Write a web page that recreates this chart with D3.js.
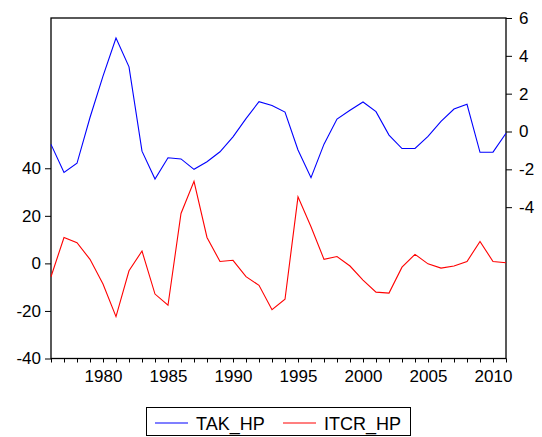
<!DOCTYPE html>
<html>
<head>
<meta charset="utf-8">
<script src="https://cdn.jsdelivr.net/npm/d3@7"></script>
<style>
  html, body { margin: 0; padding: 0; background: #fff; }
  svg { display: block; }
  text { font-family: "Liberation Sans", Arial, sans-serif; fill: #000; }
</style>
</head>
<body>
<svg id="chart" width="542" height="437"></svg>
<script>
// Years covered by both filtered series
const years = d3.range(1976, 2012);

// TAK_HP (right axis)
const takHP = [
  -0.68, -2.16, -1.68, 0.74, 2.93, 4.94, 3.42, -1.04, -2.51, -1.39,
  -1.45, -2.00, -1.60, -1.07, -0.28, 0.68, 1.58, 1.38, 1.03, -0.98,
  -2.44, -0.67, 0.66, 1.12, 1.56, 1.05, -0.19, -0.90, -0.90, -0.26,
  0.53, 1.19, 1.44, -1.10, -1.09, -0.09
];

// ITCR_HP (left axis)
const itcrHP = [
  -5.6, 10.9, 8.7, 1.7, -8.7, -22.4, -3.1, 5.2, -12.9, -17.6,
  21.0, 34.5, 10.9, 0.8, 1.3, -5.6, -9.2, -19.5, -15.1, 28.0,
  15.4, 1.7, 2.9, -1.1, -7.0, -12.1, -12.5, -1.6, 3.8, -0.2,
  -2.0, -1.1, 0.8, 9.2, 0.8, 0.3
];

const leftTicks = [-40, -20, 0, 20, 40];
const rightTicks = [-4, -2, 0, 2, 4, 6];
const yearLabels = [1980, 1985, 1990, 1995, 2000, 2005, 2010];

const seriesNames = ["TAK_HP", "ITCR_HP"];
const seriesColors = ["#0000ff", "#ff0000"];

const plot = { left: 51, right: 506, top: 18, bottom: 358.5 };

const svg = d3.select("#chart");

const x = d3.scaleLinear().domain([1976, 2011]).range([plot.left, plot.right]);
const yLeft = d3.scaleLinear().domain([-40, 103.2]).range([plot.bottom, plot.top]);
const yRight = d3.scaleLinear().domain([-12, 6]).range([plot.bottom, plot.top]);

// Axes (plain hyphen for negative numbers)
const fontSize = "17px";
const plain = d => String(d);

const xAxis = d3.axisBottom(x)
  .tickValues(years)
  .tickSize(4)
  .tickSizeOuter(0)
  .tickFormat(d => yearLabels.includes(d) ? d : "");
const gx = svg.append("g")
  .attr("transform", `translate(0,${plot.bottom})`)
  .call(xAxis);
gx.selectAll("text").style("font-size", fontSize).attr("dy", "0.95em").attr("y", 7.5);

const gl = svg.append("g")
  .attr("transform", `translate(${plot.left},0)`)
  .call(d3.axisLeft(yLeft).tickValues(leftTicks).tickFormat(plain).tickSize(6).tickSizeOuter(0).tickPadding(4));
gl.selectAll("text").style("font-size", fontSize);

const gr = svg.append("g")
  .attr("transform", `translate(${plot.right},0)`)
  .call(d3.axisRight(yRight).tickValues(rightTicks).tickFormat(plain).tickSize(6).tickSizeOuter(0).tickPadding(7));
gr.selectAll("text").style("font-size", fontSize);

svg.selectAll(".domain").remove();
svg.selectAll(".tick line").attr("stroke", "#000");

// Frame
svg.append("rect")
  .attr("x", plot.left).attr("y", plot.top)
  .attr("width", plot.right - plot.left).attr("height", plot.bottom - plot.top)
  .attr("fill", "none").attr("stroke", "#000").attr("stroke-width", 1.3);

// Series lines
const lineTak = d3.line().x((d, i) => x(years[i])).y(d => yRight(d));
const lineItcr = d3.line().x((d, i) => x(years[i])).y(d => yLeft(d));

svg.append("path").datum(takHP)
  .attr("d", lineTak).attr("fill", "none")
  .attr("stroke", seriesColors[0]).attr("stroke-width", 1.1);
svg.append("path").datum(itcrHP)
  .attr("d", lineItcr).attr("fill", "none")
  .attr("stroke", seriesColors[1]).attr("stroke-width", 1.1);

// Legend
const legend = svg.append("g");
legend.append("rect")
  .attr("x", 146.5).attr("y", 407.5).attr("width", 264).attr("height", 28)
  .attr("fill", "#fff").attr("stroke", "#000").attr("stroke-width", 1);

const legendItems = [
  { x1: 155, x2: 188, tx: 196 },
  { x1: 283, x2: 316, tx: 324 }
];
legendItems.forEach((it, i) => {
  legend.append("line")
    .attr("x1", it.x1).attr("x2", it.x2).attr("y1", 423).attr("y2", 423)
    .attr("stroke", seriesColors[i]).attr("stroke-width", 1.1);
  legend.append("text")
    .attr("x", it.tx).attr("y", 429.5)
    .style("font-size", "18px")
    .text(seriesNames[i]);
});
</script>
</body>
</html>
